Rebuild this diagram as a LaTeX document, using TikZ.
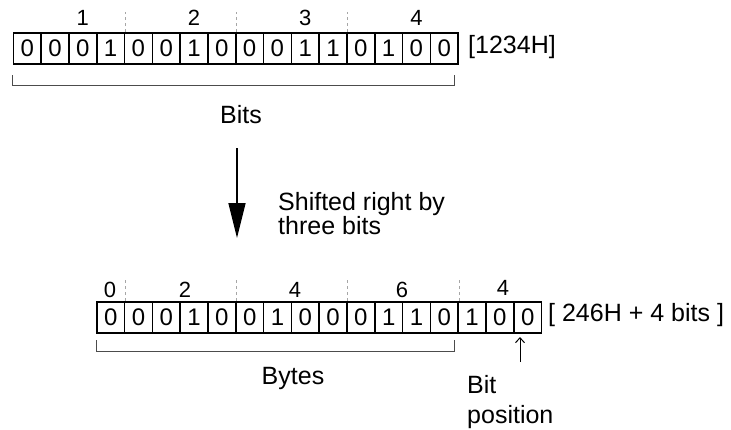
\documentclass[tikz,border=0pt]{standalone}
\usepackage{fontspec}
\setmainfont{Liberation Sans}
\usetikzlibrary{arrows.meta}
\begin{document}
\begin{tikzpicture}[x=1pt,y=-1pt,
  cell/.style={draw, line width=1.6pt, minimum width=27.8pt, minimum height=31pt, inner sep=0pt, font=\fontsize{24}{28}\selectfont, anchor=north west},
  grp/.style={font=\fontsize{22}{26}\selectfont, inner sep=0pt},
  txt/.style={font=\fontsize{25}{29}\selectfont, inner sep=0pt},
  sep/.style={gray!70, line width=0.8pt, dash pattern=on 3pt off 3pt},
  brk/.style={gray!60!black, line width=1pt}]
\useasboundingbox (0,0) rectangle (731,429);
% top row
\foreach \b [count=\i from 0] in {0,0,0,1,0,0,1,0,0,0,1,1,0,1,0,0}
  \node[cell] (t\i) at ({12.5+27.8*\i},32) {\b};
% bottom row
\foreach \b [count=\i from 0] in {0,0,0,1,0,0,1,0,0,0,1,1,0,1,0,0}
  \node[cell] (b\i) at ({96+27.8*\i},301) {\b};
% top group labels and separators
\node[grp] (l1) at (t2.center |- 0,18) {1};
\node[grp] (l2) at (t6.center |- 0,18) {2};
\node[grp] (l3) at (t10.center |- 0,18) {3};
\node[grp] (l4) at (t14.center |- 0,18) {4};
\foreach \k in {3,7,11}
  \draw[sep] (t\k.north east) -- ++(0,-20);
% bottom group labels and separators
\node[grp] (m0) at (110,290) {0};
\node[grp] (m2) at (185,290) {2};
\node[grp] (m4) at (295,290) {4};
\node[grp] (m6) at (402,290) {6};
\node[grp] (m8) at (503,288) {4};
\foreach \k in {0,4,8,12}
  \draw[sep] (b\k.north east) -- ++(0,-23);
% hex values
\node[txt, anchor=west] (hex1) at (468,47) {[1234H]};
\node[txt, anchor=west] (hex2) at (548,315) {[ 246H + 4 bits ]};
% brackets
\coordinate (ba1) at (12.5,75);
\coordinate (bb1) at (454,75);
\draw[brk] (ba1) -- ++(0,10) -| (bb1);
\coordinate (ba2) at (96,340);
\coordinate (bb2) at (454,340);
\draw[brk] (ba2) -- ++(0,11) -| (bb2);
\node[txt] (bits) at (241,115) {Bits};
\node[txt] (bytes) at (293,378) {Bytes};
% shift arrow
\coordinate (s1) at (237,148);
\coordinate (s2) at (237,238);
\draw[line width=1.5pt, -{Triangle[length=35pt,width=17pt]}] (s1) -- (s2);
\node[txt, anchor=base west] (sh1) at (278,210) {Shifted right by};
\node[txt, anchor=base west] (sh2) at (278,234) {three bits};
% bit position
\node[txt, anchor=base west] (bp1) at (467,393) {Bit};
\node[txt, anchor=base west] (bp2) at (467,423) {position};
\coordinate (pa) at (520,362);
\draw[line width=1pt, -{Straight Barb[length=5pt,width=9pt]}] (pa) -- (520,337);
\end{tikzpicture}
\end{document}
